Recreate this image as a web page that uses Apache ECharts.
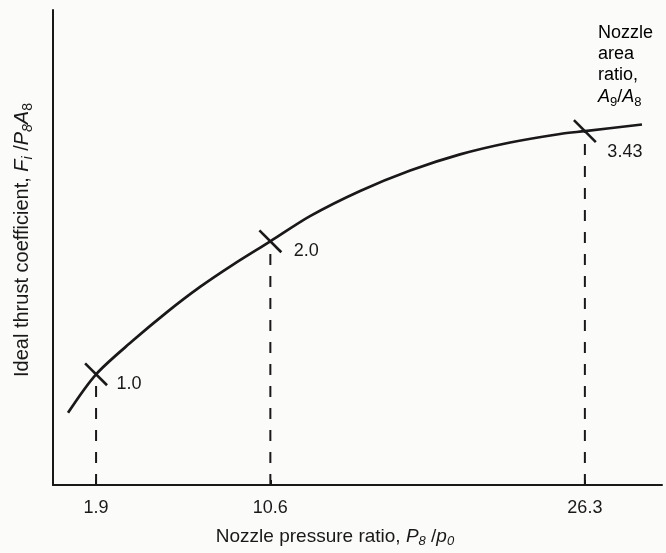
<!DOCTYPE html>
<html>
<head>
<meta charset="utf-8">
<script src="https://cdn.jsdelivr.net/npm/echarts@6/dist/echarts.min.js"></script>
<style>
  html, body { margin: 0; padding: 0; background: #fbfbfa; }
  #chart { width: 666px; height: 553px; }
</style>
</head>
<body>
<div id="chart"></div>
<script>
// Nozzle pressure ratios marked on the curve, with their nozzle area ratios
const pressureTicks = [1.9, 10.6, 26.3];
const areaRatioLabels = ['1.0', '2.0', '3.43'];
const markedThrust = [23.3, 51.3, 74.5];

// Ideal thrust coefficient curve (relative units, axis is unlabelled)
const curvePressure = [0.5, 1.9, 3.74, 5.44, 7.09, 8.74, 10.6, 12.58, 15.08, 17.58, 20.07, 22.57, 25.06, 26.3, 29.15];
const curveThrust   = [15.2, 23.3, 30.4, 36.4, 41.7, 46.4, 51.3, 56.6, 61.9, 66.2, 69.6, 72.1, 73.9, 74.5, 75.9];

const FONT = '"Liberation Sans", Arial, Helvetica, sans-serif';
const INK = '#1a1818';

const chart = echarts.init(document.getElementById('chart'));

const curveData = curvePressure.map((p, i) => [p, curveThrust[i]]);
const markData = pressureTicks.map((p, i) => [p, markedThrust[i]]);
const labelShift = [[20, 10], [23, 10], [22, 21]];

// dashed drop lines from each marked point down to the pressure axis
const dropLines = pressureTicks.map((p, i) => ({
  type: 'line',
  data: [[p, 0], [p, markedThrust[i]]],
  symbol: 'none',
  silent: true,
  lineStyle: { color: INK, width: 2, type: [11, 11] },
  z: 1
}));

function richSet(size) {
  const base = { fontSize: size, fontFamily: FONT, color: INK, lineHeight: size + 3 };
  return {
    t: base,
    i: Object.assign({}, base, { fontStyle: 'italic' }),
    s: { fontSize: Math.round(size * 0.7), fontFamily: FONT, color: INK, fontStyle: 'italic',
         padding: [Math.round(size * 0.55), 0, 0, 0], verticalAlign: 'bottom' },
    n: { fontSize: Math.round(size * 0.7), fontFamily: FONT, color: INK,
         padding: [Math.round(size * 0.55), 0, 0, 0], verticalAlign: 'bottom' }
  };
}

chart.setOption({
  backgroundColor: '#fbfbfa',
  animation: false,
  grid: { left: 53, right: 4, top: 10, bottom: 68, outerBoundsMode: 'none', containLabel: false },
  xAxis: {
    type: 'value',
    min: -0.25,
    max: 30.15,
    name: '{t|Nozzle pressure ratio, }{i|P}{s|8}{t| /}{i|p}{s|0}',
    nameLocation: 'middle',
    nameGap: 40,
    nameTextStyle: {
      padding: [0, 45, 0, 0],
      rich: richSet(19)
    },
    axisLine: { show: true, onZero: false, lineStyle: { color: INK, width: 2 } },
    axisTick: { show: true, inside: true, length: 5, customValues: pressureTicks, lineStyle: { color: INK, width: 2 } },
    axisLabel: {
      customValues: pressureTicks,
      formatter: v => String(v),
      fontSize: 18, fontFamily: FONT, color: INK, margin: 14
    },
    splitLine: { show: false }
  },
  yAxis: {
    type: 'value',
    min: 0,
    max: 100,
    name: '{t|Ideal thrust coefficient, }{i|F}{s|i}{t| /}{i|P}{s|8}{i|A}{n|8}',
    nameLocation: 'middle',
    nameGap: 18,
    nameRotate: 90,
    nameTextStyle: {
      padding: [0, 0, 0, 15],
      rich: richSet(20)
    },
    axisLine: { show: true, onZero: false, lineStyle: { color: INK, width: 2 } },
    axisTick: { show: false },
    axisLabel: { show: false },
    splitLine: { show: false }
  },
  graphic: [{
    type: 'text',
    left: 598,
    top: 24,
    style: {
      text: '{t|Nozzle}\n{t|area}\n{t|ratio,}\n{i|A}{n|9}{t|/}{i|A}{n|8}',
      align: 'center',
      x: 29,
      rich: richSet(18)
    }
  }],
  series: [
    ...dropLines,
    {
      type: 'line',
      data: curveData,
      smooth: 0.3,
      symbol: 'none',
      silent: true,
      lineStyle: { color: INK, width: 2.7 },
      z: 3
    },
    {
      type: 'scatter',
      data: markData,
      symbol: 'rect',
      symbolSize: [31, 2.6],
      symbolRotate: -45,
      itemStyle: { color: INK, opacity: 1 },
      silent: true,
      z: 4
    },
    {
      type: 'scatter',
      data: markData.map((d, i) => ({
        value: d,
        label: { offset: labelShift[i] }
      })),
      symbolSize: 1,
      itemStyle: { color: INK, opacity: 1 },
      silent: true,
      label: {
        show: true,
        position: 'right',
        distance: 0,
        formatter: p => areaRatioLabels[p.dataIndex],
        fontSize: 18, fontFamily: FONT, color: INK, opacity: 1
      },
      z: 5
    }
  ]
});
</script>
</body>
</html>
